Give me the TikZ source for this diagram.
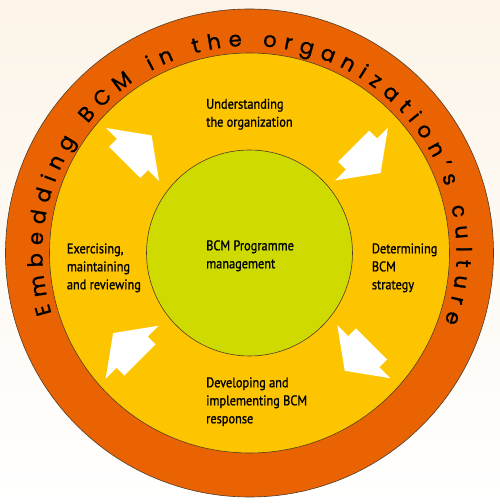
\documentclass[tikz,border=0pt]{standalone}
\usepackage{fontspec}
\usetikzlibrary{decorations.text}
\newfontfamily\ringfont[FakeBold=1]{Poppins}
\newfontfamily\labelfont[FakeStretch=0.88,FakeBold=1]{PT Sans}
\definecolor{bgcream}{RGB}{252,244,232}
\definecolor{ringorange}{RGB}{233,99,3}
\definecolor{cycleyellow}{RGB}{253,197,0}
\definecolor{coregreen}{RGB}{206,218,0}
\definecolor{rimline}{RGB}{80,60,40}
\tikzset{
  disc/.style={circle,draw=rimline,line width=0.6pt,inner sep=0pt,outer sep=0pt},
  stage/.style={anchor=base west,align=left,inner sep=0pt,
    font=\labelfont\fontsize{14}{18}\selectfont},
  blockarrow/.pic={\fill[white] (27,0) -- (0,37.5) -- (0,22) -- (-11,22)
    -- (-11,-22) -- (0,-22) -- (0,-37.5) -- cycle;}
}
\begin{document}
\begin{tikzpicture}[x=1pt,y=1pt]
      \useasboundingbox (0,0) rectangle (500,504);
      \fill[top color=bgcream,bottom color=white] (0,0) rectangle (500,504);

      \node[disc,fill=ringorange,minimum size=488pt] (ring) at (249.5,251) {};
      \node[disc,fill=cycleyellow,minimum size=400pt] (cycle) at (ring.center) {};
      \node[disc,fill=coregreen,minimum size=206pt] (core) at (ring.center) {};

      %% text round the ring
      \path[decorate,decoration={text along path,text align={fit to path},
        text={|\ringfont\fontsize{21}{21}\selectfont|Embedding BCM in the organization{’}s culture}}]
        (ring.center) ++(197:207) arc[start angle=197,end angle=-19.6,radius=207];

      %% labels sit on the baseline of their last line
      \node[stage] (understand) at (206,377.3) {Understanding\\the organization};
      \node[stage] (programme) at (206,235.7) {BCM Programme\\management};
      \node[stage] (exercise) at (66.7,214.7) {Exercising,\\maintaining\\and reviewing};
      \node[stage] (determine) at (371.7,214.7) {Determining\\BCM\\strategy};
      \node[stage] (develop) at (206,80.7) {Developing and\\implementing BCM\\response};

      %% arrows going round
      \pic[rotate=45] at (132.5,349.5) {blockarrow};
      \pic[rotate=-45] at (361.5,350) {blockarrow};
      \pic[rotate=-135] at (363.8,152.3) {blockarrow};
      \pic[rotate=135] at (132.2,151.8) {blockarrow};
    \end{tikzpicture}
\end{document}
